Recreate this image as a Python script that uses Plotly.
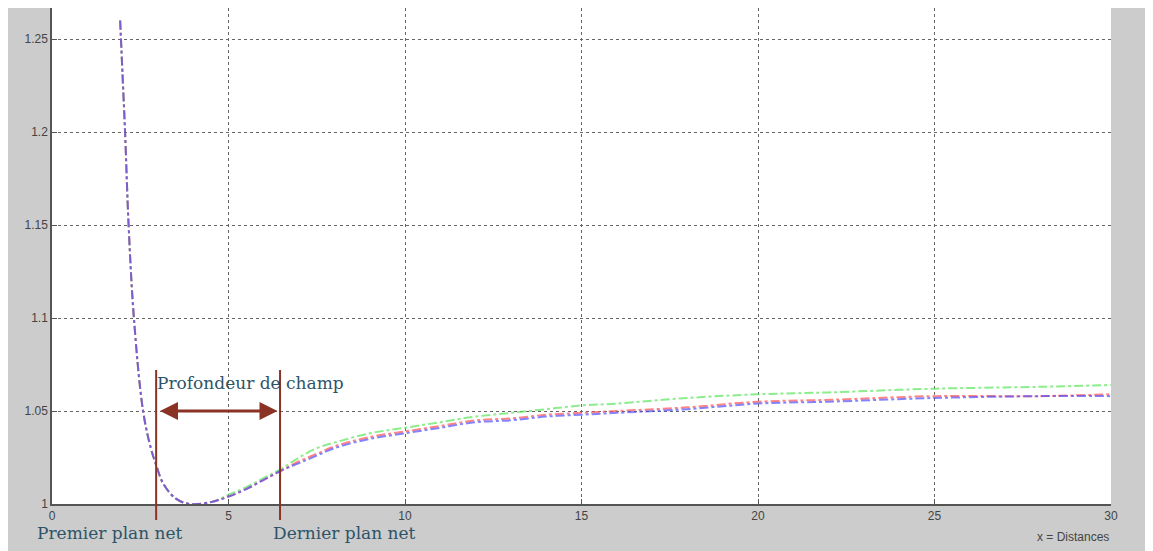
import plotly.graph_objects as go

# ---- data ----
x_vals = [1.93, 2.0, 2.07, 2.17, 2.32, 2.58, 2.8, 2.95, 3.15, 3.5, 3.9, 4.5, 5, 5.5, 6, 6.5,
          7, 7.5, 8, 9, 10, 11, 12, 13, 14, 15, 16, 18, 20, 22, 25, 28, 30]
red_vals = [1.26, 1.23, 1.20, 1.15, 1.10, 1.05, 1.03, 1.021, 1.011, 1.003, 1.0, 1.001, 1.004,
            1.008, 1.013, 1.018, 1.023, 1.027, 1.031, 1.036, 1.039, 1.042, 1.045, 1.046, 1.048,
            1.049, 1.050, 1.052, 1.055, 1.056, 1.058, 1.058, 1.059]
green_vals = [1.26, 1.23, 1.20, 1.15, 1.10, 1.05, 1.03, 1.021, 1.011, 1.003, 1.0, 1.001, 1.005,
              1.009, 1.014, 1.019, 1.025, 1.030, 1.033, 1.038, 1.041, 1.044, 1.047, 1.049, 1.051,
              1.053, 1.054, 1.057, 1.059, 1.060, 1.062, 1.063, 1.064]
blue_vals = [1.26, 1.23, 1.20, 1.15, 1.10, 1.05, 1.03, 1.021, 1.011, 1.003, 1.0, 1.001, 1.004,
             1.008, 1.013, 1.018, 1.022, 1.026, 1.030, 1.035, 1.038, 1.041, 1.044, 1.045, 1.047,
             1.048, 1.049, 1.051, 1.054, 1.055, 1.057, 1.058, 1.058]
x_ticks = [0, 5, 10, 15, 20, 25, 30]
y_ticks = [1.0, 1.05, 1.1, 1.15, 1.2, 1.25]
y_tick_text = ["1", "1.05", "1.1", "1.15", "1.2", "1.25"]
premier_x = 2.95
dernier_x = 6.46
depth_y = 1.05

fig = go.Figure()
for vals, col in [(green_vals, "rgba(90,230,90,0.7)"),
                  (red_vals, "rgba(255,80,80,0.7)"),
                  (blue_vals, "rgba(80,80,255,0.7)")]:
    fig.add_trace(go.Scatter(x=x_vals, y=vals, mode="lines",
                             line=dict(color=col, width=2, dash="dashdot", shape="spline"),
                             showlegend=False))

OFF = 8  # page body margin
W, H = 1145, 543
L, R, T, B = 44, 42, 0, 47
pw, ph = W - L - R, H - T - B

def px_x(p):
    return (p - OFF - L) / pw

def px_y(p):
    return (H - B - (p - OFF)) / ph

shapes = []
for xv in [premier_x, dernier_x]:
    shapes.append(dict(type="line", xref="x", yref="paper", x0=xv, x1=xv,
                       y0=px_y(520), y1=px_y(370),
                       line=dict(color="#8a3324", width=2), layer="above"))

axis_font = dict(family="Liberation Sans, Arial", size=12, color="#444")
fig.update_layout(
    width=W, height=H,
    margin=dict(l=L, r=R, t=T, b=B),
    paper_bgcolor="#cccccc", plot_bgcolor="white",
    shapes=shapes,
    xaxis=dict(range=[0, 30], tickvals=x_ticks, ticks="inside", ticklen=5,
               tickcolor="#555", showline=True, linecolor="#555", linewidth=1.5,
               showgrid=True, gridcolor="#666", griddash="dot", gridwidth=1,
               zeroline=False, tickfont=axis_font),
    yaxis=dict(range=[1.0, 1.2667], tickvals=y_ticks, ticktext=y_tick_text, ticks="inside",
               ticklen=5, tickcolor="#555", showline=True, linecolor="#555", linewidth=1.5,
               showgrid=True, gridcolor="#666", griddash="dot", gridwidth=1,
               zeroline=False, tickfont=axis_font),
)

text_font = dict(family="DejaVu Serif", size=17, color="#2e5468")
ann = [
    dict(x=3.06, y=depth_y, ax=6.43, ay=depth_y, xref="x", yref="y", axref="x", ayref="y",
         text="", showarrow=True, arrowhead=2, arrowsize=1.2, arrowwidth=3,
         arrowside="end+start", arrowcolor="#8a3324"),
    dict(x=px_x(155), y=px_y(383), xref="paper", yref="paper", text="Profondeur de champ",
         showarrow=False, xanchor="left", yanchor="middle", font=text_font),
    dict(x=px_x(35), y=px_y(533), xref="paper", yref="paper", text="Premier plan net",
         showarrow=False, xanchor="left", yanchor="middle", font=text_font),
    dict(x=px_x(271), y=px_y(533), xref="paper", yref="paper", text="Dernier plan net",
         showarrow=False, xanchor="left", yanchor="middle", font=text_font),
    dict(x=px_x(1111), y=px_y(537), xref="paper", yref="paper", text="x = Distances",
         showarrow=False, xanchor="right", yanchor="middle", font=axis_font),
]
fig.update_layout(annotations=ann)
fig.write_html("out.html")
